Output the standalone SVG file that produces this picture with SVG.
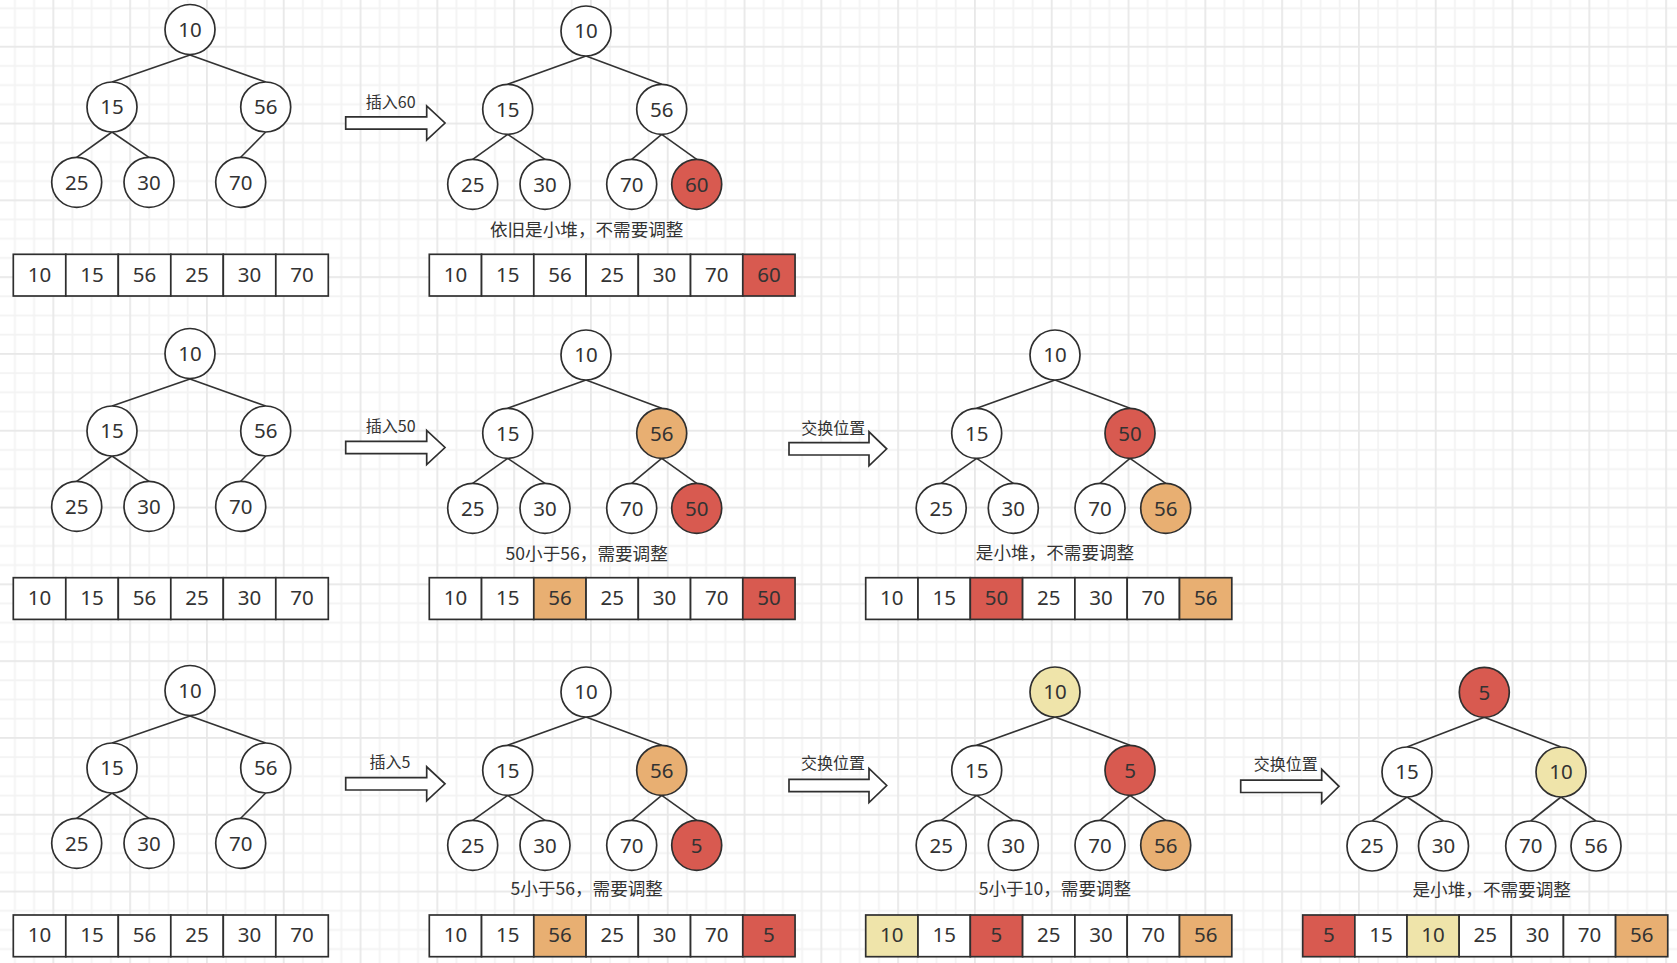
<svg xmlns="http://www.w3.org/2000/svg" width="1677" height="963" viewBox="0 0 1677 963">
<defs>
<style>
.n{fill:#ffffff;stroke:#2f2f2f;stroke-width:1.7}
.red{fill:#D85A50}
.org{fill:#E8AF72}
.yel{fill:#EFE4AA}
.num{font-family:"Noto Sans","Open Sans","Noto Sans CJK SC",sans-serif;font-size:20.5px;fill:#333333;text-anchor:middle}
.lbl{font-family:"Noto Sans CJK SC","Noto Sans",sans-serif;font-size:17.6px;fill:#333333;text-anchor:middle}
.alb{font-family:"Noto Sans CJK SC","Noto Sans",sans-serif;font-size:16px;fill:#333333;text-anchor:middle}
.e{stroke:#333333;stroke-width:1.6;fill:none}
.arr{fill:#ffffff;stroke:#2f2f2f;stroke-width:1.7;stroke-linejoin:miter}
</style>
<pattern id="grid" patternUnits="userSpaceOnUse" x="52.4" y="45.8" width="76.8" height="76.8">
<rect x="0" y="0" width="76.8" height="76.8" fill="#ffffff"/>
<rect x="19.2" y="0" width="1.8" height="76.8" fill="#f3f3f3"/>
<rect x="38.4" y="0" width="1.8" height="76.8" fill="#f3f3f3"/>
<rect x="57.6" y="0" width="1.8" height="76.8" fill="#f3f3f3"/>
<rect x="0" y="19.2" width="76.8" height="1.8" fill="#f3f3f3"/>
<rect x="0" y="38.4" width="76.8" height="1.8" fill="#f3f3f3"/>
<rect x="0" y="57.6" width="76.8" height="1.8" fill="#f3f3f3"/>
<rect x="0" y="0" width="1.8" height="76.8" fill="#e8e8e8"/>
<rect x="0" y="0" width="76.8" height="1.8" fill="#e8e8e8"/>
</pattern>
</defs>
<rect x="0" y="0" width="1677" height="963" fill="url(#grid)"/>

<g id="connectors">
<line class="e" x1="190" y1="55" x2="112" y2="82"/>
<line class="e" x1="190" y1="55" x2="265.7" y2="82"/>
<line class="e" x1="112" y1="132" x2="76.7" y2="157.3"/>
<line class="e" x1="112" y1="132" x2="149" y2="157.3"/>
<line class="e" x1="265.7" y1="132" x2="240.7" y2="157.3"/>
<line class="e" x1="190" y1="379" x2="112" y2="406"/>
<line class="e" x1="190" y1="379" x2="265.7" y2="406"/>
<line class="e" x1="112" y1="456" x2="76.7" y2="481.3"/>
<line class="e" x1="112" y1="456" x2="149" y2="481.3"/>
<line class="e" x1="265.7" y1="456" x2="240.7" y2="481.3"/>
<line class="e" x1="190" y1="716" x2="112" y2="743"/>
<line class="e" x1="190" y1="716" x2="265.7" y2="743"/>
<line class="e" x1="112" y1="793" x2="76.7" y2="818.3"/>
<line class="e" x1="112" y1="793" x2="149" y2="818.3"/>
<line class="e" x1="265.7" y1="793" x2="240.7" y2="818.3"/>
<line class="e" x1="586" y1="56" x2="507.7" y2="84.3"/>
<line class="e" x1="586" y1="56" x2="661.7" y2="84.3"/>
<line class="e" x1="507.7" y1="134.3" x2="472.7" y2="159.3"/>
<line class="e" x1="507.7" y1="134.3" x2="545" y2="159.3"/>
<line class="e" x1="661.7" y1="134.3" x2="631.7" y2="159.3"/>
<line class="e" x1="661.7" y1="134.3" x2="696.7" y2="159.3"/>
<line class="e" x1="586" y1="380" x2="507.7" y2="408.3"/>
<line class="e" x1="586" y1="380" x2="661.7" y2="408.3"/>
<line class="e" x1="507.7" y1="458.3" x2="472.7" y2="483.3"/>
<line class="e" x1="507.7" y1="458.3" x2="545" y2="483.3"/>
<line class="e" x1="661.7" y1="458.3" x2="631.7" y2="483.3"/>
<line class="e" x1="661.7" y1="458.3" x2="696.7" y2="483.3"/>
<line class="e" x1="586" y1="717" x2="507.7" y2="745.3"/>
<line class="e" x1="586" y1="717" x2="661.7" y2="745.3"/>
<line class="e" x1="507.7" y1="795.3" x2="472.7" y2="820.3"/>
<line class="e" x1="507.7" y1="795.3" x2="545" y2="820.3"/>
<line class="e" x1="661.7" y1="795.3" x2="631.7" y2="820.3"/>
<line class="e" x1="661.7" y1="795.3" x2="696.7" y2="820.3"/>
<line class="e" x1="1055" y1="380" x2="976.7" y2="408.3"/>
<line class="e" x1="1055" y1="380" x2="1130" y2="408.3"/>
<line class="e" x1="976.7" y1="458.3" x2="941.2" y2="483.3"/>
<line class="e" x1="976.7" y1="458.3" x2="1013.3" y2="483.3"/>
<line class="e" x1="1130" y1="458.3" x2="1100" y2="483.3"/>
<line class="e" x1="1130" y1="458.3" x2="1165.7" y2="483.3"/>
<line class="e" x1="1055" y1="717" x2="976.7" y2="745.3"/>
<line class="e" x1="1055" y1="717" x2="1130" y2="745.3"/>
<line class="e" x1="976.7" y1="795.3" x2="941.2" y2="820.3"/>
<line class="e" x1="976.7" y1="795.3" x2="1013.3" y2="820.3"/>
<line class="e" x1="1130" y1="795.3" x2="1100" y2="820.3"/>
<line class="e" x1="1130" y1="795.3" x2="1165.7" y2="820.3"/>
<line class="e" x1="1484.3" y1="717.3" x2="1407" y2="747"/>
<line class="e" x1="1484.3" y1="717.3" x2="1561" y2="747"/>
<line class="e" x1="1407" y1="797" x2="1372" y2="821"/>
<line class="e" x1="1407" y1="797" x2="1443.5" y2="821"/>
<line class="e" x1="1561" y1="797" x2="1530.7" y2="821"/>
<line class="e" x1="1561" y1="797" x2="1596" y2="821"/>
<polygon class="arr" points="345.7,116.8 426.7,116.8 426.7,106 445,123 426.7,140 426.7,129.2 345.7,129.2"/>
<polygon class="arr" points="345.7,441.3 426.7,441.3 426.7,430.5 445,447.5 426.7,464.5 426.7,453.7 345.7,453.7"/>
<polygon class="arr" points="345.7,777.6 426.7,777.6 426.7,766.8 445,783.8 426.7,800.8 426.7,790 345.7,790"/>
<polygon class="arr" points="789,442.6 869,442.6 869,431.8 886.7,448.8 869,465.8 869,455 789,455"/>
<polygon class="arr" points="789,779.3 869,779.3 869,768.5 886.7,785.5 869,802.5 869,791.7 789,791.7"/>
<polygon class="arr" points="1240.7,780.1 1321.7,780.1 1321.7,769.3 1339,786.3 1321.7,803.3 1321.7,792.5 1240.7,792.5"/>
</g>

<g id="arrow-labels">
<text class="alb" x="390.7" y="107.8">插入60</text>
<text class="alb" x="390.7" y="431.5">插入50</text>
<text class="alb" x="390" y="767.8">插入5</text>
<text class="alb" x="833.3" y="433.8">交换位置</text>
<text class="alb" x="833" y="769.1">交换位置</text>
<text class="alb" x="1285.7" y="769.8">交换位置</text>
</g>

<g id="notes">
<text class="lbl" x="586.7" y="235.5">依旧是小堆，不需要调整</text>
<text class="lbl" x="586.7" y="559.5">50小于56，需要调整</text>
<text class="lbl" x="1055" y="559">是小堆，不需要调整</text>
<text class="lbl" x="586.7" y="895">5小于56，需要调整</text>
<text class="lbl" x="1055" y="895">5小于10，需要调整</text>
<text class="lbl" x="1491.7" y="895.5">是小堆，不需要调整</text>
</g>

<g id="a1-10"><circle class="n" cx="190" cy="29.5" r="25"/><text class="num" x="190" y="36.7">10</text></g>
<g id="a1-15"><circle class="n" cx="112" cy="107" r="25"/><text class="num" x="112" y="114.2">15</text></g>
<g id="a1-56"><circle class="n" cx="265.7" cy="107" r="25"/><text class="num" x="265.7" y="114.2">56</text></g>
<g id="a1-25"><circle class="n" cx="76.7" cy="182.3" r="25"/><text class="num" x="76.7" y="189.5">25</text></g>
<g id="a1-30"><circle class="n" cx="149" cy="182.3" r="25"/><text class="num" x="149" y="189.5">30</text></g>
<g id="a1-70"><circle class="n" cx="240.7" cy="182.3" r="25"/><text class="num" x="240.7" y="189.5">70</text></g>
<g id="a2-10"><circle class="n" cx="190" cy="353.5" r="25"/><text class="num" x="190" y="360.7">10</text></g>
<g id="a2-15"><circle class="n" cx="112" cy="431" r="25"/><text class="num" x="112" y="438.2">15</text></g>
<g id="a2-56"><circle class="n" cx="265.7" cy="431" r="25"/><text class="num" x="265.7" y="438.2">56</text></g>
<g id="a2-25"><circle class="n" cx="76.7" cy="506.3" r="25"/><text class="num" x="76.7" y="513.5">25</text></g>
<g id="a2-30"><circle class="n" cx="149" cy="506.3" r="25"/><text class="num" x="149" y="513.5">30</text></g>
<g id="a2-70"><circle class="n" cx="240.7" cy="506.3" r="25"/><text class="num" x="240.7" y="513.5">70</text></g>
<g id="a3-10"><circle class="n" cx="190" cy="690.5" r="25"/><text class="num" x="190" y="697.7">10</text></g>
<g id="a3-15"><circle class="n" cx="112" cy="768" r="25"/><text class="num" x="112" y="775.2">15</text></g>
<g id="a3-56"><circle class="n" cx="265.7" cy="768" r="25"/><text class="num" x="265.7" y="775.2">56</text></g>
<g id="a3-25"><circle class="n" cx="76.7" cy="843.3" r="25"/><text class="num" x="76.7" y="850.5">25</text></g>
<g id="a3-30"><circle class="n" cx="149" cy="843.3" r="25"/><text class="num" x="149" y="850.5">30</text></g>
<g id="a3-70"><circle class="n" cx="240.7" cy="843.3" r="25"/><text class="num" x="240.7" y="850.5">70</text></g>

<g id="b1-10"><circle class="n" cx="586" cy="31" r="25"/><text class="num" x="586" y="38.2">10</text></g>
<g id="b1-15"><circle class="n" cx="507.7" cy="109.3" r="25"/><text class="num" x="507.7" y="116.5">15</text></g>
<g id="b1-56"><circle class="n" cx="661.7" cy="109.3" r="25"/><text class="num" x="661.7" y="116.5">56</text></g>
<g id="b1-25"><circle class="n" cx="472.7" cy="184.3" r="25"/><text class="num" x="472.7" y="191.5">25</text></g>
<g id="b1-30"><circle class="n" cx="545" cy="184.3" r="25"/><text class="num" x="545" y="191.5">30</text></g>
<g id="b1-70"><circle class="n" cx="631.7" cy="184.3" r="25"/><text class="num" x="631.7" y="191.5">70</text></g>
<g id="b1-60"><circle class="n red" cx="696.7" cy="184.3" r="25"/><text class="num" x="696.7" y="191.5">60</text></g>
<g id="b2-10"><circle class="n" cx="586" cy="355" r="25"/><text class="num" x="586" y="362.2">10</text></g>
<g id="b2-15"><circle class="n" cx="507.7" cy="433.3" r="25"/><text class="num" x="507.7" y="440.5">15</text></g>
<g id="b2-56"><circle class="n org" cx="661.7" cy="433.3" r="25"/><text class="num" x="661.7" y="440.5">56</text></g>
<g id="b2-25"><circle class="n" cx="472.7" cy="508.3" r="25"/><text class="num" x="472.7" y="515.5">25</text></g>
<g id="b2-30"><circle class="n" cx="545" cy="508.3" r="25"/><text class="num" x="545" y="515.5">30</text></g>
<g id="b2-70"><circle class="n" cx="631.7" cy="508.3" r="25"/><text class="num" x="631.7" y="515.5">70</text></g>
<g id="b2-50"><circle class="n red" cx="696.7" cy="508.3" r="25"/><text class="num" x="696.7" y="515.5">50</text></g>
<g id="b3-10"><circle class="n" cx="586" cy="692" r="25"/><text class="num" x="586" y="699.2">10</text></g>
<g id="b3-15"><circle class="n" cx="507.7" cy="770.3" r="25"/><text class="num" x="507.7" y="777.5">15</text></g>
<g id="b3-56"><circle class="n org" cx="661.7" cy="770.3" r="25"/><text class="num" x="661.7" y="777.5">56</text></g>
<g id="b3-25"><circle class="n" cx="472.7" cy="845.3" r="25"/><text class="num" x="472.7" y="852.5">25</text></g>
<g id="b3-30"><circle class="n" cx="545" cy="845.3" r="25"/><text class="num" x="545" y="852.5">30</text></g>
<g id="b3-70"><circle class="n" cx="631.7" cy="845.3" r="25"/><text class="num" x="631.7" y="852.5">70</text></g>
<g id="b3-5"><circle class="n red" cx="696.7" cy="845.3" r="25"/><text class="num" x="696.7" y="852.5">5</text></g>

<g id="c2-10"><circle class="n" cx="1055" cy="355" r="25"/><text class="num" x="1055" y="362.2">10</text></g>
<g id="c2-15"><circle class="n" cx="976.7" cy="433.3" r="25"/><text class="num" x="976.7" y="440.5">15</text></g>
<g id="c2-50"><circle class="n red" cx="1130" cy="433.3" r="25"/><text class="num" x="1130" y="440.5">50</text></g>
<g id="c2-25"><circle class="n" cx="941.2" cy="508.3" r="25"/><text class="num" x="941.2" y="515.5">25</text></g>
<g id="c2-30"><circle class="n" cx="1013.3" cy="508.3" r="25"/><text class="num" x="1013.3" y="515.5">30</text></g>
<g id="c2-70"><circle class="n" cx="1100" cy="508.3" r="25"/><text class="num" x="1100" y="515.5">70</text></g>
<g id="c2-56"><circle class="n org" cx="1165.7" cy="508.3" r="25"/><text class="num" x="1165.7" y="515.5">56</text></g>
<g id="c3-10"><circle class="n yel" cx="1055" cy="692" r="25"/><text class="num" x="1055" y="699.2">10</text></g>
<g id="c3-15"><circle class="n" cx="976.7" cy="770.3" r="25"/><text class="num" x="976.7" y="777.5">15</text></g>
<g id="c3-5"><circle class="n red" cx="1130" cy="770.3" r="25"/><text class="num" x="1130" y="777.5">5</text></g>
<g id="c3-25"><circle class="n" cx="941.2" cy="845.3" r="25"/><text class="num" x="941.2" y="852.5">25</text></g>
<g id="c3-30"><circle class="n" cx="1013.3" cy="845.3" r="25"/><text class="num" x="1013.3" y="852.5">30</text></g>
<g id="c3-70"><circle class="n" cx="1100" cy="845.3" r="25"/><text class="num" x="1100" y="852.5">70</text></g>
<g id="c3-56"><circle class="n org" cx="1165.7" cy="845.3" r="25"/><text class="num" x="1165.7" y="852.5">56</text></g>

<g id="d3-5"><circle class="n red" cx="1484.3" cy="692.3" r="25"/><text class="num" x="1484.3" y="699.5">5</text></g>
<g id="d3-15"><circle class="n" cx="1407" cy="772" r="25"/><text class="num" x="1407" y="779.2">15</text></g>
<g id="d3-10"><circle class="n yel" cx="1561" cy="772" r="25"/><text class="num" x="1561" y="779.2">10</text></g>
<g id="d3-25"><circle class="n" cx="1372" cy="846" r="25"/><text class="num" x="1372" y="853.2">25</text></g>
<g id="d3-30"><circle class="n" cx="1443.5" cy="846" r="25"/><text class="num" x="1443.5" y="853.2">30</text></g>
<g id="d3-70"><circle class="n" cx="1530.7" cy="846" r="25"/><text class="num" x="1530.7" y="853.2">70</text></g>
<g id="d3-56"><circle class="n" cx="1596" cy="846" r="25"/><text class="num" x="1596" y="853.2">56</text></g>

<g id="arrA1">
<rect class="n" x="13.3" y="254.3" width="52.5" height="41.7"/><text class="num" x="39.55" y="281.6">10</text>
<rect class="n" x="65.8" y="254.3" width="52.5" height="41.7"/><text class="num" x="92.05" y="281.6">15</text>
<rect class="n" x="118.3" y="254.3" width="52.5" height="41.7"/><text class="num" x="144.55" y="281.6">56</text>
<rect class="n" x="170.8" y="254.3" width="52.5" height="41.7"/><text class="num" x="197.05" y="281.6">25</text>
<rect class="n" x="223.3" y="254.3" width="52.5" height="41.7"/><text class="num" x="249.55" y="281.6">30</text>
<rect class="n" x="275.8" y="254.3" width="52.5" height="41.7"/><text class="num" x="302.05" y="281.6">70</text>
</g>
<g id="arrA2">
<rect class="n" x="13.3" y="577.7" width="52.5" height="41.7"/><text class="num" x="39.55" y="605">10</text>
<rect class="n" x="65.8" y="577.7" width="52.5" height="41.7"/><text class="num" x="92.05" y="605">15</text>
<rect class="n" x="118.3" y="577.7" width="52.5" height="41.7"/><text class="num" x="144.55" y="605">56</text>
<rect class="n" x="170.8" y="577.7" width="52.5" height="41.7"/><text class="num" x="197.05" y="605">25</text>
<rect class="n" x="223.3" y="577.7" width="52.5" height="41.7"/><text class="num" x="249.55" y="605">30</text>
<rect class="n" x="275.8" y="577.7" width="52.5" height="41.7"/><text class="num" x="302.05" y="605">70</text>
</g>
<g id="arrA3">
<rect class="n" x="13.3" y="915" width="52.5" height="41.7"/><text class="num" x="39.55" y="942.3">10</text>
<rect class="n" x="65.8" y="915" width="52.5" height="41.7"/><text class="num" x="92.05" y="942.3">15</text>
<rect class="n" x="118.3" y="915" width="52.5" height="41.7"/><text class="num" x="144.55" y="942.3">56</text>
<rect class="n" x="170.8" y="915" width="52.5" height="41.7"/><text class="num" x="197.05" y="942.3">25</text>
<rect class="n" x="223.3" y="915" width="52.5" height="41.7"/><text class="num" x="249.55" y="942.3">30</text>
<rect class="n" x="275.8" y="915" width="52.5" height="41.7"/><text class="num" x="302.05" y="942.3">70</text>
</g>
<g id="arrB1">
<rect class="n" x="429.3" y="254.3" width="52.25" height="41.7"/><text class="num" x="455.4" y="281.6">10</text>
<rect class="n" x="481.55" y="254.3" width="52.25" height="41.7"/><text class="num" x="507.7" y="281.6">15</text>
<rect class="n" x="533.8" y="254.3" width="52.25" height="41.7"/><text class="num" x="559.9" y="281.6">56</text>
<rect class="n" x="586.05" y="254.3" width="52.25" height="41.7"/><text class="num" x="612.2" y="281.6">25</text>
<rect class="n" x="638.3" y="254.3" width="52.25" height="41.7"/><text class="num" x="664.4" y="281.6">30</text>
<rect class="n" x="690.55" y="254.3" width="52.25" height="41.7"/><text class="num" x="716.7" y="281.6">70</text>
<rect class="n red" x="742.8" y="254.3" width="52.25" height="41.7"/><text class="num" x="768.9" y="281.6">60</text>
</g>
<g id="arrB2">
<rect class="n" x="429.3" y="577.7" width="52.25" height="41.7"/><text class="num" x="455.4" y="605">10</text>
<rect class="n" x="481.55" y="577.7" width="52.25" height="41.7"/><text class="num" x="507.7" y="605">15</text>
<rect class="n org" x="533.8" y="577.7" width="52.25" height="41.7"/><text class="num" x="559.9" y="605">56</text>
<rect class="n" x="586.05" y="577.7" width="52.25" height="41.7"/><text class="num" x="612.2" y="605">25</text>
<rect class="n" x="638.3" y="577.7" width="52.25" height="41.7"/><text class="num" x="664.4" y="605">30</text>
<rect class="n" x="690.55" y="577.7" width="52.25" height="41.7"/><text class="num" x="716.7" y="605">70</text>
<rect class="n red" x="742.8" y="577.7" width="52.25" height="41.7"/><text class="num" x="768.9" y="605">50</text>
</g>
<g id="arrB3">
<rect class="n" x="429.3" y="915" width="52.25" height="41.7"/><text class="num" x="455.4" y="942.3">10</text>
<rect class="n" x="481.55" y="915" width="52.25" height="41.7"/><text class="num" x="507.7" y="942.3">15</text>
<rect class="n org" x="533.8" y="915" width="52.25" height="41.7"/><text class="num" x="559.9" y="942.3">56</text>
<rect class="n" x="586.05" y="915" width="52.25" height="41.7"/><text class="num" x="612.2" y="942.3">25</text>
<rect class="n" x="638.3" y="915" width="52.25" height="41.7"/><text class="num" x="664.4" y="942.3">30</text>
<rect class="n" x="690.55" y="915" width="52.25" height="41.7"/><text class="num" x="716.7" y="942.3">70</text>
<rect class="n red" x="742.8" y="915" width="52.25" height="41.7"/><text class="num" x="768.9" y="942.3">5</text>
</g>
<g id="arrC2">
<rect class="n" x="865.7" y="577.7" width="52.3" height="41.7"/><text class="num" x="891.85" y="605">10</text>
<rect class="n" x="918" y="577.7" width="52.3" height="41.7"/><text class="num" x="944.15" y="605">15</text>
<rect class="n red" x="970.3" y="577.7" width="52.3" height="41.7"/><text class="num" x="996.45" y="605">50</text>
<rect class="n" x="1022.6" y="577.7" width="52.3" height="41.7"/><text class="num" x="1048.75" y="605">25</text>
<rect class="n" x="1074.9" y="577.7" width="52.3" height="41.7"/><text class="num" x="1101.05" y="605">30</text>
<rect class="n" x="1127.2" y="577.7" width="52.3" height="41.7"/><text class="num" x="1153.35" y="605">70</text>
<rect class="n org" x="1179.5" y="577.7" width="52.3" height="41.7"/><text class="num" x="1205.65" y="605">56</text>
</g>
<g id="arrC3">
<rect class="n yel" x="865.7" y="915" width="52.3" height="41.7"/><text class="num" x="891.85" y="942.3">10</text>
<rect class="n" x="918" y="915" width="52.3" height="41.7"/><text class="num" x="944.15" y="942.3">15</text>
<rect class="n red" x="970.3" y="915" width="52.3" height="41.7"/><text class="num" x="996.45" y="942.3">5</text>
<rect class="n" x="1022.6" y="915" width="52.3" height="41.7"/><text class="num" x="1048.75" y="942.3">25</text>
<rect class="n" x="1074.9" y="915" width="52.3" height="41.7"/><text class="num" x="1101.05" y="942.3">30</text>
<rect class="n" x="1127.2" y="915" width="52.3" height="41.7"/><text class="num" x="1153.35" y="942.3">70</text>
<rect class="n org" x="1179.5" y="915" width="52.3" height="41.7"/><text class="num" x="1205.65" y="942.3">56</text>
</g>
<g id="arrD3">
<rect class="n red" x="1302.7" y="915" width="52.15" height="41.7"/><text class="num" x="1328.8" y="942.3">5</text>
<rect class="n" x="1354.85" y="915" width="52.15" height="41.7"/><text class="num" x="1380.9" y="942.3">15</text>
<rect class="n yel" x="1407" y="915" width="52.15" height="41.7"/><text class="num" x="1433.1" y="942.3">10</text>
<rect class="n" x="1459.15" y="915" width="52.15" height="41.7"/><text class="num" x="1485.2" y="942.3">25</text>
<rect class="n" x="1511.3" y="915" width="52.15" height="41.7"/><text class="num" x="1537.4" y="942.3">30</text>
<rect class="n" x="1563.45" y="915" width="52.15" height="41.7"/><text class="num" x="1589.5" y="942.3">70</text>
<rect class="n org" x="1615.6" y="915" width="52.15" height="41.7"/><text class="num" x="1641.7" y="942.3">56</text>
</g>
</svg>
